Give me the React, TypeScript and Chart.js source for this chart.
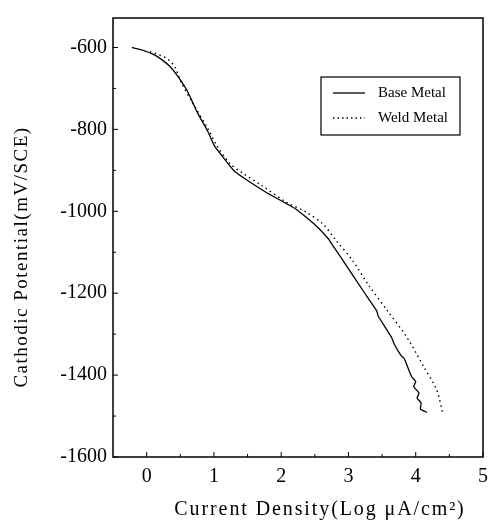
import React, { useEffect, useRef } from "react";
import { Chart, registerables } from "chart.js";

Chart.register(...registerables);

// Base Metal (solid)
const baseX = [-0.22, -0.05, 0.1, 0.22, 0.35, 0.47, 0.61, 0.76, 0.91, 1.01, 1.17, 1.3, 1.5, 1.78, 2.22, 2.51, 2.7, 2.76, 2.91, 3.25, 3.42, 3.44, 3.64, 3.68, 3.78, 3.83, 3.88, 3.94, 4.0, 3.97, 4.05, 4.02, 4.08, 4.07, 4.17];
const baseY = [-600, -607, -617, -629, -647, -672, -708, -761, -805, -841, -875, -901, -925, -954, -995, -1034, -1067, -1082, -1118, -1202, -1243, -1255, -1308, -1324, -1352, -1360, -1380, -1404, -1416, -1428, -1444, -1456, -1468, -1483, -1491];

// Weld Metal (dotted)
const weldX = [0.05, 0.2, 0.32, 0.42, 0.51, 0.69, 0.91, 1.05, 1.23, 1.42, 1.71, 2.08, 2.37, 2.62, 2.81, 3.06, 3.29, 3.58, 3.87, 4.12, 4.31, 4.4];
const weldY = [-610, -619, -629, -648, -684, -737, -798, -841, -882, -906, -937, -978, -1002, -1031, -1070, -1120, -1178, -1243, -1308, -1380, -1436, -1492];

const xTicks = [0, 1, 2, 3, 4, 5];
const yTicks = [-1600, -1400, -1200, -1000, -800, -600];
const seriesNames = ["Base Metal", "Weld Metal"];
const xTitle = "Current Density(Log \u03BCA/cm\u00B2)";
const yTitle = "Cathodic Potential(mV/SCE)";

const FONT = "'Liberation Serif', 'Times New Roman', serif";

const decor = {
  id: "decor",
  afterDraw(chart: any) {
    const { ctx, chartArea: a, scales } = chart;
    const x = scales.x;
    const y = scales.y;
    ctx.save();
    ctx.strokeStyle = "#000";
    ctx.fillStyle = "#000";
    // frame
    ctx.lineWidth = 1.5;
    ctx.strokeRect(a.left, a.top, a.right - a.left, a.bottom - a.top);
    // y ticks (major + minor), inward
    ctx.lineWidth = 1;
    for (let v = yTicks[0]; v <= yTicks[yTicks.length - 1]; v += 100) {
      const py = y.getPixelForValue(v);
      const len = v % 200 === 0 ? 5 : 3;
      ctx.beginPath();
      ctx.moveTo(a.left, py);
      ctx.lineTo(a.left + len, py);
      ctx.stroke();
    }
    for (let v = xTicks[0]; v <= xTicks[xTicks.length - 1]; v += 0.5) {
      const px = x.getPixelForValue(v);
      const len = v % 1 === 0 ? 5 : 3;
      ctx.beginPath();
      ctx.moveTo(px, a.bottom);
      ctx.lineTo(px, a.bottom - len);
      ctx.stroke();
    }
    // legend
    const lx = a.left + 208;
    const ly = a.top + 59;
    const lw = 139;
    const lh = 58;
    ctx.lineWidth = 1.2;
    ctx.strokeRect(lx, ly, lw, lh);
    ctx.font = `15px ${FONT}`;
    ctx.textBaseline = "middle";
    ctx.textAlign = "left";
    const rows = [ly + 16, ly + 41];
    seriesNames.forEach((name, i) => {
      ctx.beginPath();
      ctx.lineWidth = 1.3;
      ctx.setLineDash(i === 0 ? [] : [1.5, 3]);
      ctx.moveTo(lx + 12, rows[i]);
      ctx.lineTo(lx + 44, rows[i]);
      ctx.stroke();
      ctx.setLineDash([]);
      ctx.fillText(name, lx + 57, rows[i]);
    });
    // axis titles
    ctx.textAlign = "center";
    ctx.textBaseline = "middle";
    (ctx as any).letterSpacing = "1.9px";
    ctx.font = `20px ${FONT}`;
    ctx.fillText(xTitle, 320, 510);
    (ctx as any).letterSpacing = "1.5px";
    ctx.font = `19px ${FONT}`;
    ctx.translate(22, 257);
    ctx.rotate(-Math.PI / 2);
    ctx.fillText(yTitle, 0, 0);
    ctx.restore();
  },
};

export default function App() {
  const ref = useRef<HTMLCanvasElement | null>(null);
  useEffect(() => {
    if (!ref.current) return;
    const chart = new Chart(ref.current, {
      type: "scatter",
      data: {
        datasets: [
          {
            label: seriesNames[0],
            data: baseX.map((v, i) => ({ x: v, y: baseY[i] })),
            showLine: true,
            borderColor: "#000",
            borderWidth: 1.3,
            pointRadius: 0,
            tension: 0.15,
          },
          {
            label: seriesNames[1],
            data: weldX.map((v, i) => ({ x: v, y: weldY[i] })),
            showLine: true,
            borderColor: "#000",
            borderWidth: 1.4,
            borderDash: [1.5, 3.5],
            pointRadius: 0,
            tension: 0.3,
          },
        ],
      },
      options: {
        animation: false,
        responsive: false,
        devicePixelRatio: 1,
        layout: { padding: { top: 13, right: 6, left: 0, bottom: 0 } },
        plugins: { legend: { display: false }, tooltip: { enabled: false } },
        scales: {
          x: {
            type: "linear",
            min: -0.5,
            max: 5,
            grid: { drawOnChartArea: false, drawTicks: false },
            border: { display: false },
            afterBuildTicks: (s: any) => {
              s.ticks = xTicks.map((v) => ({ value: v }));
            },
            afterFit: (s: any) => {
              s.height = 65;
            },
            ticks: {
              color: "#000",
              padding: 8,
              font: { family: FONT, size: 20 },
              callback: (v: any) => String(v),
            },
          },
          y: {
            type: "linear",
            min: -1600,
            max: -528,
            grid: { drawOnChartArea: false, drawTicks: false },
            border: { display: false },
            afterBuildTicks: (s: any) => {
              s.ticks = yTicks.map((v) => ({ value: v }));
            },
            afterFit: (s: any) => {
              s.width = 113;
            },
            ticks: {
              color: "#000",
              padding: 6,
              font: { family: FONT, size: 20 },
              callback: (v: any) => String(v),
            },
          },
        },
      },
      plugins: [decor],
    });
    return () => chart.destroy();
  }, []);
  return (
    <div style={{ position: "absolute", left: 0, top: 0, width: 496, height: 522 }}>
      <canvas ref={ref} width={496} height={522} />
    </div>
  );
}
